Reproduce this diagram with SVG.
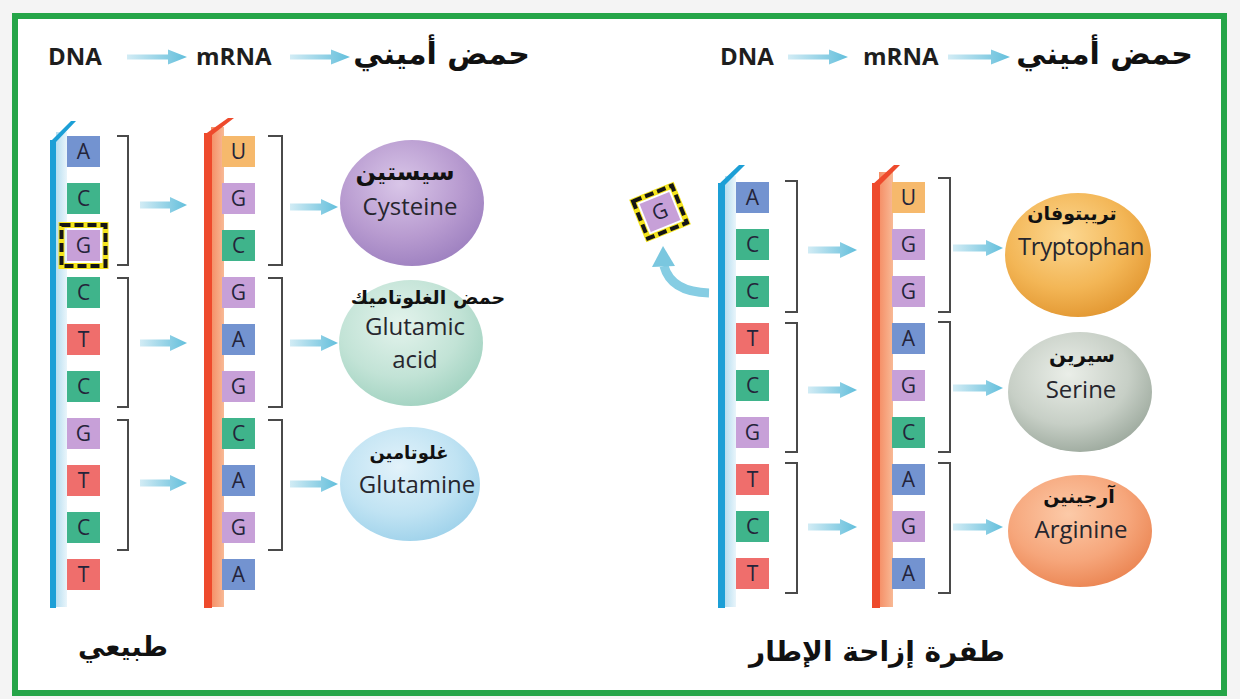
<svg xmlns="http://www.w3.org/2000/svg" width="1240" height="699" viewBox="0 0 1240 699">
  <defs>
    <style>
      .latin { font-family: "Open Sans", "Liberation Sans", sans-serif; font-size: 24px; fill: #26262e; text-anchor: middle; }
      .head { font-family: "Open Sans", "Liberation Sans", sans-serif; font-weight: 700; font-size: 24px; fill: #1e1e1e; }
      .ar { font-family: "DejaVu Sans", "Noto Sans", sans-serif; font-weight: 700; fill: #111; }
      .base { font-family: "Open Sans", "Liberation Sans", sans-serif; font-size: 21px; fill: #24243a; text-anchor: middle; }
      .bA { fill: #7393d0; }
      .bC { fill: #3fb48b; }
      .bG { fill: #c7a0d8; }
      .bT { fill: #ef6e6c; }
      .bU { fill: #f6b96c; }
      .bracket { fill: none; stroke: #4a4a4a; stroke-width: 2; }
      .arrow { fill: url(#arrowGrad); }
      .dnaBar { fill: #1c9fd6; }
      .dnaShade { fill: url(#dnaShadeGrad); }
      .rnaBar { fill: #ee4a2c; }
      .rnaShade { fill: url(#rnaShadeGrad); }
      .mutHalo { fill: none; stroke: #f4e41c; stroke-width: 6; }
      .mutDash { fill: none; stroke: #151515; stroke-width: 4; stroke-dasharray: 9 4; }
    </style>
    <linearGradient id="arrowGrad" x1="0" y1="0" x2="1" y2="0">
      <stop offset="0" stop-color="#d2ecf5"/>
      <stop offset="0.6" stop-color="#8fd0e5"/>
      <stop offset="1" stop-color="#62bfdc"/>
    </linearGradient>
    <linearGradient id="dnaShadeGrad" x1="0" y1="0" x2="1" y2="0">
      <stop offset="0" stop-color="#b7def0"/>
      <stop offset="1" stop-color="#e9f5fb"/>
    </linearGradient>
    <linearGradient id="rnaShadeGrad" x1="0" y1="0" x2="1" y2="0">
      <stop offset="0" stop-color="#f58e66"/>
      <stop offset="1" stop-color="#f8b995"/>
    </linearGradient>
    <radialGradient id="gPurple" cx="0.42" cy="0.35" r="0.7">
      <stop offset="0" stop-color="#d9c6e8"/>
      <stop offset="0.6" stop-color="#b89bd0"/>
      <stop offset="1" stop-color="#9c7fbf"/>
    </radialGradient>
    <radialGradient id="gMint" cx="0.42" cy="0.35" r="0.7">
      <stop offset="0" stop-color="#e3f3ec"/>
      <stop offset="0.6" stop-color="#c2e3d6"/>
      <stop offset="1" stop-color="#9fd1bf"/>
    </radialGradient>
    <radialGradient id="gSky" cx="0.42" cy="0.35" r="0.7">
      <stop offset="0" stop-color="#e2f2fa"/>
      <stop offset="0.6" stop-color="#c0e3f3"/>
      <stop offset="1" stop-color="#9dd1ea"/>
    </radialGradient>
    <radialGradient id="gOrange" cx="0.42" cy="0.35" r="0.7">
      <stop offset="0" stop-color="#fcd892"/>
      <stop offset="0.6" stop-color="#f3b656"/>
      <stop offset="1" stop-color="#e1952f"/>
    </radialGradient>
    <radialGradient id="gGray" cx="0.42" cy="0.35" r="0.7">
      <stop offset="0" stop-color="#eaeee8"/>
      <stop offset="0.6" stop-color="#c7cfc6"/>
      <stop offset="1" stop-color="#9aa79b"/>
    </radialGradient>
    <radialGradient id="gSalmon" cx="0.42" cy="0.35" r="0.7">
      <stop offset="0" stop-color="#fccaa8"/>
      <stop offset="0.6" stop-color="#f6a67b"/>
      <stop offset="1" stop-color="#ea8350"/>
    </radialGradient>
  </defs>

  <!-- page and green frame -->
  <rect x="0" y="0" width="1240" height="699" fill="#f4f4f4"/>
  <rect x="15" y="16" width="1209" height="677" fill="#ffffff" stroke="#25a548" stroke-width="6"/>

  <!-- header, normal side -->
  <g id="header-normal">
    <text class="head" x="48" y="65">DNA</text>
    <text class="head" x="196" y="65">mRNA</text>
    <text class="ar" x="530" y="64" font-size="30" text-anchor="end">حمض أميني</text>
  </g>

  <!-- header, frameshift side -->
  <g id="header-frameshift">
    <text class="head" x="720" y="65">DNA</text>
    <text class="head" x="863" y="65">mRNA</text>
    <text class="ar" x="1193" y="64" font-size="30" text-anchor="end">حمض أميني</text>
  </g>

  <!-- normal DNA strand -->
  <g id="dna-normal">
    <rect class="dnaShade" x="56" y="132" width="11" height="475"/>
    <polygon class="dnaBar" points="50,142 71,121 76,121 56,142"/>
    <rect class="dnaBar" x="50" y="140" width="6" height="468"/>
    <rect class="bA" x="67" y="136" width="33" height="31"/><text class="base" x="83.5" y="159">A</text>
    <rect class="bC" x="67" y="183" width="33" height="31"/><text class="base" x="83.5" y="206">C</text>
    <rect class="bG" x="67" y="230" width="33" height="31"/><text class="base" x="83.5" y="253">G</text>
    <rect class="bC" x="67" y="277" width="33" height="31"/><text class="base" x="83.5" y="300">C</text>
    <rect class="bT" x="67" y="324" width="33" height="31"/><text class="base" x="83.5" y="347">T</text>
    <rect class="bC" x="67" y="371" width="33" height="31"/><text class="base" x="83.5" y="394">C</text>
    <rect class="bG" x="67" y="418" width="33" height="31"/><text class="base" x="83.5" y="441">G</text>
    <rect class="bT" x="67" y="465" width="33" height="31"/><text class="base" x="83.5" y="488">T</text>
    <rect class="bC" x="67" y="512" width="33" height="31"/><text class="base" x="83.5" y="535">C</text>
    <rect class="bT" x="67" y="559" width="33" height="31"/><text class="base" x="83.5" y="582">T</text>
    <!-- base lost in the frameshift -->
    <rect class="mutHalo" x="61.5" y="225" width="44" height="41"/>
    <rect class="mutDash" x="61.5" y="225" width="44" height="41"/>
  </g>

  <!-- normal mRNA strand -->
  <g id="mrna-normal">
    <rect class="rnaShade" x="211" y="127" width="13" height="480"/>
    <polygon class="rnaBar" points="204,135 228,118 234,118 212,135"/>
    <rect class="rnaBar" x="204" y="133" width="8" height="475"/>
    <rect class="bU" x="222" y="136" width="33" height="31"/><text class="base" x="238.5" y="159">U</text>
    <rect class="bG" x="222" y="183" width="33" height="31"/><text class="base" x="238.5" y="206">G</text>
    <rect class="bC" x="222" y="230" width="33" height="31"/><text class="base" x="238.5" y="253">C</text>
    <rect class="bG" x="222" y="277" width="33" height="31"/><text class="base" x="238.5" y="300">G</text>
    <rect class="bA" x="222" y="324" width="33" height="31"/><text class="base" x="238.5" y="347">A</text>
    <rect class="bG" x="222" y="371" width="33" height="31"/><text class="base" x="238.5" y="394">G</text>
    <rect class="bC" x="222" y="418" width="33" height="31"/><text class="base" x="238.5" y="441">C</text>
    <rect class="bA" x="222" y="465" width="33" height="31"/><text class="base" x="238.5" y="488">A</text>
    <rect class="bG" x="222" y="512" width="33" height="31"/><text class="base" x="238.5" y="535">G</text>
    <rect class="bA" x="222" y="559" width="33" height="31"/><text class="base" x="238.5" y="582">A</text>
  </g>

  <!-- amino acids, normal side -->
  <g id="aa-cysteine">
    <ellipse cx="412" cy="203" rx="72" ry="63" fill="url(#gPurple)"/>
    <text class="ar" x="405" y="180" font-size="24" text-anchor="middle">سيستين</text>
    <text class="latin" x="410" y="215">Cysteine</text>
  </g>
  <g id="aa-glutamic-acid">
    <ellipse cx="411" cy="343" rx="72" ry="63" fill="url(#gMint)"/>
    <text class="ar" x="428" y="304" font-size="19" text-anchor="middle">حمض الغلوتاميك</text>
    <text class="latin" x="415" y="335" font-size="23">Glutamic</text>
    <text class="latin" x="415" y="368" font-size="23">acid</text>
  </g>
  <g id="aa-glutamine">
    <ellipse cx="410" cy="484" rx="70" ry="57" fill="url(#gSky)"/>
    <text class="ar" x="409" y="459" font-size="18" text-anchor="middle">غلوتامين</text>
    <text class="latin" x="417" y="493">Glutamine</text>
  </g>

  <!-- frameshift DNA strand -->
  <g id="dna-frameshift">
    <rect class="dnaShade" x="725" y="176" width="11" height="431"/>
    <polygon class="dnaBar" points="718,185 739,165 745,165 725,185"/>
    <rect class="dnaBar" x="718" y="183" width="7" height="425"/>
    <rect class="bA" x="736" y="182" width="33" height="31"/><text class="base" x="752.5" y="205">A</text>
    <rect class="bC" x="736" y="229" width="33" height="31"/><text class="base" x="752.5" y="252">C</text>
    <rect class="bC" x="736" y="276" width="33" height="31"/><text class="base" x="752.5" y="299">C</text>
    <rect class="bT" x="736" y="323" width="33" height="31"/><text class="base" x="752.5" y="346">T</text>
    <rect class="bC" x="736" y="370" width="33" height="31"/><text class="base" x="752.5" y="393">C</text>
    <rect class="bG" x="736" y="417" width="33" height="31"/><text class="base" x="752.5" y="440">G</text>
    <rect class="bT" x="736" y="464" width="33" height="31"/><text class="base" x="752.5" y="487">T</text>
    <rect class="bC" x="736" y="511" width="33" height="31"/><text class="base" x="752.5" y="534">C</text>
    <rect class="bT" x="736" y="558" width="33" height="31"/><text class="base" x="752.5" y="581">T</text>
  </g>

  <!-- deleted base -->
  <g id="deleted-base" transform="translate(660,212) rotate(-22)">
    <rect class="bG" x="-16" y="-15" width="32" height="30"/>
    <rect class="mutHalo" x="-21" y="-20" width="42" height="40"/>
    <rect class="mutDash" x="-21" y="-20" width="42" height="40"/>
    <text class="base" x="0" y="7">G</text>
  </g>

  <!-- frameshift mRNA strand -->
  <g id="mrna-frameshift">
    <rect class="rnaShade" x="879" y="172" width="14" height="435"/>
    <polygon class="rnaBar" points="872,185 894,165 900,165 880,185"/>
    <rect class="rnaBar" x="872" y="183" width="8" height="425"/>
    <rect class="bU" x="892" y="182" width="33" height="31"/><text class="base" x="908.5" y="205">U</text>
    <rect class="bG" x="892" y="229" width="33" height="31"/><text class="base" x="908.5" y="252">G</text>
    <rect class="bG" x="892" y="276" width="33" height="31"/><text class="base" x="908.5" y="299">G</text>
    <rect class="bA" x="892" y="323" width="33" height="31"/><text class="base" x="908.5" y="346">A</text>
    <rect class="bG" x="892" y="370" width="33" height="31"/><text class="base" x="908.5" y="393">G</text>
    <rect class="bC" x="892" y="417" width="33" height="31"/><text class="base" x="908.5" y="440">C</text>
    <rect class="bA" x="892" y="464" width="33" height="31"/><text class="base" x="908.5" y="487">A</text>
    <rect class="bG" x="892" y="511" width="33" height="31"/><text class="base" x="908.5" y="534">G</text>
    <rect class="bA" x="892" y="558" width="33" height="31"/><text class="base" x="908.5" y="581">A</text>
  </g>

  <!-- amino acids, frameshift side -->
  <g id="aa-tryptophan">
    <ellipse cx="1078" cy="255" rx="73" ry="62" fill="url(#gOrange)"/>
    <text class="ar" x="1072" y="220" font-size="19" text-anchor="middle">تريبتوفان</text>
    <text class="latin" x="1081" y="255" font-size="25" letter-spacing="-0.4">Tryptophan</text>
  </g>
  <g id="aa-serine">
    <ellipse cx="1080" cy="392" rx="72" ry="60" fill="url(#gGray)"/>
    <text class="ar" x="1082" y="362" font-size="20" text-anchor="middle">سيرين</text>
    <text class="latin" x="1081" y="398" font-size="25">Serine</text>
  </g>
  <g id="aa-arginine">
    <ellipse cx="1080" cy="531" rx="72" ry="56" fill="url(#gSalmon)"/>
    <text class="ar" x="1079" y="503" font-size="19" text-anchor="middle">آرجينين</text>
    <text class="latin" x="1081" y="538" font-size="25">Arginine</text>
  </g>

  <!-- codon brackets -->
  <g id="codon-brackets">
    <path class="bracket" d="M117 136 H128 V265 H117 M117 278 H128 V407 H117 M117 420 H128 V550 H117"/>
    <path class="bracket" d="M268 136 H282 V265 H268 M268 278 H282 V407 H268 M268 420 H282 V550 H268"/>
    <path class="bracket" d="M785 181 H797 V312 H785 M785 323 H797 V452 H785 M785 463 H797 V593 H785"/>
    <path class="bracket" d="M938 178 H950 V312 H938 M938 322 H950 V452 H938 M938 463 H950 V593 H938"/>
  </g>

  <!-- arrows -->
  <g id="connectors">
    <!-- headers -->
    <path class="arrow" d="M127 54.5 H168 V49.5 L187 57 L168 64.5 V59.5 H127 Z"/>
    <path class="arrow" d="M290 54.5 H331 V49.5 L350 57 L331 64.5 V59.5 H290 Z"/>
    <path class="arrow" d="M788 54.5 H829 V49.5 L848 57 L829 64.5 V59.5 H788 Z"/>
    <path class="arrow" d="M948 54.5 H991 V49.5 L1010 57 L991 64.5 V59.5 H948 Z"/>
    <!-- DNA to mRNA, normal -->
    <path class="arrow" d="M140 201.5 H170 V197 L187 205 L170 213 V208.5 H140 Z"/>
    <path class="arrow" d="M140 339.5 H170 V335 L187 343 L170 351 V346.5 H140 Z"/>
    <path class="arrow" d="M140 479.5 H170 V475 L187 483 L170 491 V486.5 H140 Z"/>
    <!-- mRNA to amino acid, normal -->
    <path class="arrow" d="M290 203.5 H321 V199 L338 207 L321 215 V210.5 H290 Z"/>
    <path class="arrow" d="M290 339.5 H321 V335 L338 343 L321 351 V346.5 H290 Z"/>
    <path class="arrow" d="M290 480.5 H321 V476 L338 484 L321 492 V487.5 H290 Z"/>
    <!-- DNA to mRNA, frameshift -->
    <path class="arrow" d="M808 246.5 H840 V242 L857 250 L840 258 V253.5 H808 Z"/>
    <path class="arrow" d="M808 386.5 H840 V382 L857 390 L840 398 V393.5 H808 Z"/>
    <path class="arrow" d="M808 523.5 H840 V519 L857 527 L840 535 V530.5 H808 Z"/>
    <!-- mRNA to amino acid, frameshift -->
    <path class="arrow" d="M953 244.5 H986 V240 L1003 248 L986 256 V251.5 H953 Z"/>
    <path class="arrow" d="M953 384.5 H986 V380 L1003 388 L986 396 V391.5 H953 Z"/>
    <path class="arrow" d="M953 523.5 H986 V519 L1003 527 L986 535 V530.5 H953 Z"/>
    <!-- base leaving the strand -->
    <path d="M709 293 Q671 292 664 266" fill="none" stroke="#86cde3" stroke-width="9"/>
    <polygon points="663,246 675,266 652,267" fill="#7ac7df"/>
  </g>

  <!-- panel captions -->
  <g id="caption-normal">
    <text class="ar" x="168" y="656" font-size="27" text-anchor="end">طبيعي</text>
  </g>
  <g id="caption-frameshift">
    <text class="ar" x="1005" y="661" font-size="28" text-anchor="end">طفرة إزاحة الإطار</text>
  </g>
</svg>
